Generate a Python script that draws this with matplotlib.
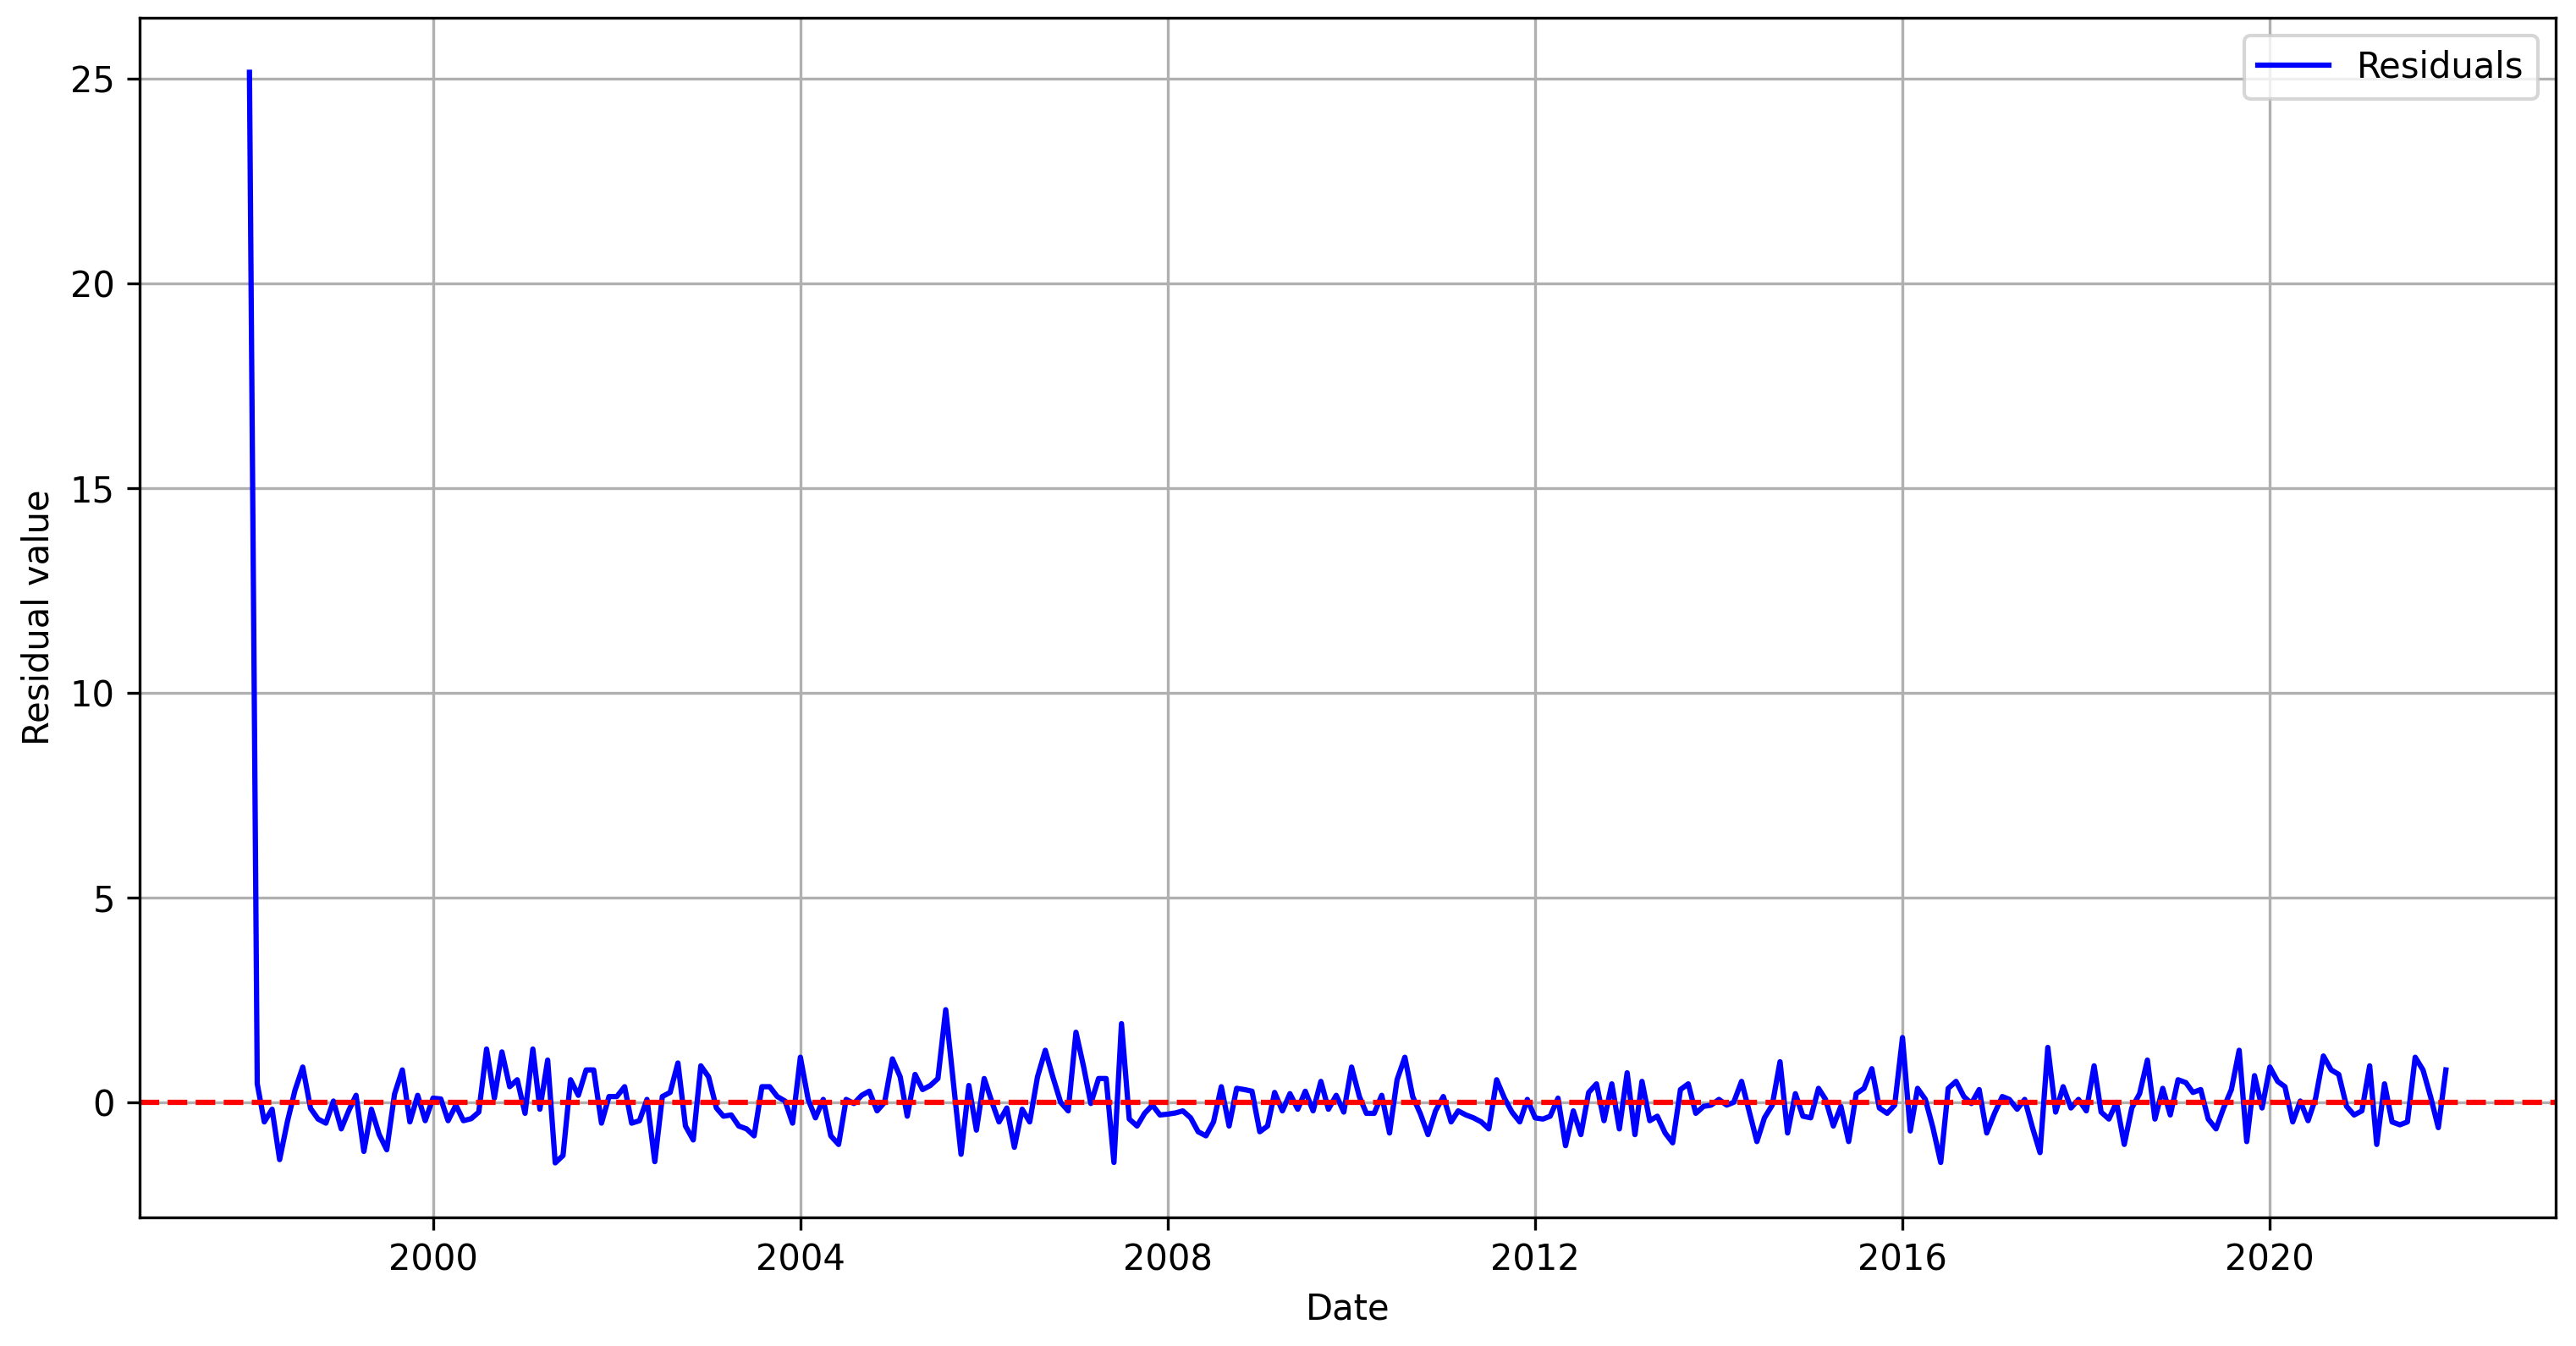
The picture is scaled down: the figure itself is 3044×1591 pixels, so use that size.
import matplotlib
matplotlib.use("Agg")
import matplotlib.pyplot as plt
import pandas as pd

# -------------------------------
# Data (monthly residuals)
# -------------------------------
start_date = "1998-01-01"

res_1998 = [25.15, 0.45, -0.48, -0.17, -1.40, -0.47, 0.29, 0.86, -0.15, -0.41, -0.51, 0.03]
res_1999 = [-0.65, -0.19, 0.17, -1.20, -0.17, -0.79, -1.16, 0.20, 0.79, -0.48, 0.17, -0.45]
res_2000 = [0.10, 0.08, -0.45, -0.07, -0.45, -0.40, -0.24, 1.30, 0.10, 1.23, 0.38, 0.55]
res_2001 = [-0.27, 1.30, -0.17, 1.03, -1.48, -1.30, 0.55, 0.17, 0.79, 0.79, -0.51, 0.14]
res_2002 = [0.14, 0.38, -0.51, -0.45, 0.07, -1.45, 0.14, 0.24, 0.96, -0.58, -0.92, 0.89]
res_2003 = [0.62, -0.14, -0.34, -0.31, -0.58, -0.65, -0.82, 0.38, 0.38, 0.14, 0.03, -0.51]
res_2004 = [1.10, 0.07, -0.38, 0.07, -0.82, -1.03, 0.07, -0.03, 0.17, 0.27, -0.21, 0.00]
res_2005 = [1.06, 0.62, -0.34, 0.68, 0.31, 0.41, 0.58, 2.26, 0.45, -1.27, 0.41, -0.68]
res_2006 = [0.58, 0.00, -0.48, -0.14, -1.10, -0.17, -0.48, 0.62, 1.27, 0.62, 0.00, -0.21]
res_2007 = [1.71, 0.85, -0.03, 0.58, 0.58, -1.47, 1.92, -0.41, -0.58, -0.27, -0.07, -0.31]
res_2008 = [-0.29, -0.26, -0.21, -0.38, -0.72, -0.82, -0.48, 0.38, -0.58, 0.34, 0.31, 0.27]
res_2009 = [-0.72, -0.58, 0.24, -0.21, 0.21, -0.17, 0.27, -0.21, 0.51, -0.17, 0.17, -0.24]
res_2010 = [0.86, 0.14, -0.27, -0.27, 0.17, -0.75, 0.55, 1.10, 0.14, -0.27, -0.79, -0.21]
res_2011 = [0.14, -0.48, -0.21, -0.31, -0.38, -0.48, -0.65, 0.55, 0.10, -0.24, -0.48, 0.07]
res_2012 = [-0.38, -0.41, -0.34, 0.10, -1.06, -0.21, -0.79, 0.24, 0.45, -0.45, 0.45, -0.65]
res_2013 = [0.72, -0.79, 0.51, -0.45, -0.34, -0.75, -0.99, 0.31, 0.45, -0.27, -0.10, -0.07]
res_2014 = [0.07, -0.07, 0.00, 0.51, -0.21, -0.96, -0.38, -0.07, 0.99, -0.75, 0.21, -0.34]
res_2015 = [-0.38, 0.34, 0.07, -0.58, -0.10, -0.96, 0.21, 0.34, 0.82, -0.14, -0.27, -0.07]
res_2016 = [1.58, -0.70, 0.34, 0.07, -0.62, -1.47, 0.34, 0.51, 0.14, -0.03, 0.31, -0.75]
res_2017 = [-0.27, 0.14, 0.07, -0.17, 0.07, -0.62, -1.23, 1.34, -0.24, 0.38, -0.14, 0.07]
res_2018 = [-0.21, 0.89, -0.24, -0.41, 0.00, -1.03, -0.14, 0.21, 1.03, -0.41, 0.34, -0.31]
res_2019 = [0.55, 0.48, 0.24, 0.31, -0.41, -0.65, -0.14, 0.31, 1.27, -0.96, 0.65, -0.14]
res_2020 = [0.86, 0.51, 0.38, -0.48, 0.03, -0.45, 0.10, 1.13, 0.79, 0.68, -0.10, -0.31]
res_2021 = [-0.21, 0.89, -1.03, 0.45, -0.48, -0.55, -0.48, 1.10, 0.79, 0.14, -0.62, 0.79]

residuals = (res_1998 + res_1999 + res_2000 + res_2001 + res_2002 + res_2003
             + res_2004 + res_2005 + res_2006 + res_2007 + res_2008 + res_2009
             + res_2010 + res_2011 + res_2012 + res_2013 + res_2014 + res_2015
             + res_2016 + res_2017 + res_2018 + res_2019 + res_2020 + res_2021)

dates = pd.date_range(start_date, periods=len(residuals), freq="MS")
series = pd.Series(residuals, index=dates)

# -------------------------------
# Plot
# -------------------------------
fig = plt.figure(figsize=(3044 / 300, 1591 / 300), dpi=300)
ax = fig.add_axes([165 / 3044, 152 / 1591, (3020 - 165) / 3044, (1439 - 21) / 1591])

ax.plot(series.index, series.values, color="blue", label="Residuals")
ax.axhline(0, color="red", linestyle="--")
ax.set_xlabel("Date")
ax.set_ylabel("Residual value")
ax.legend(loc="upper right")
ax.grid(True)

fig.savefig("out.png", dpi=300)
